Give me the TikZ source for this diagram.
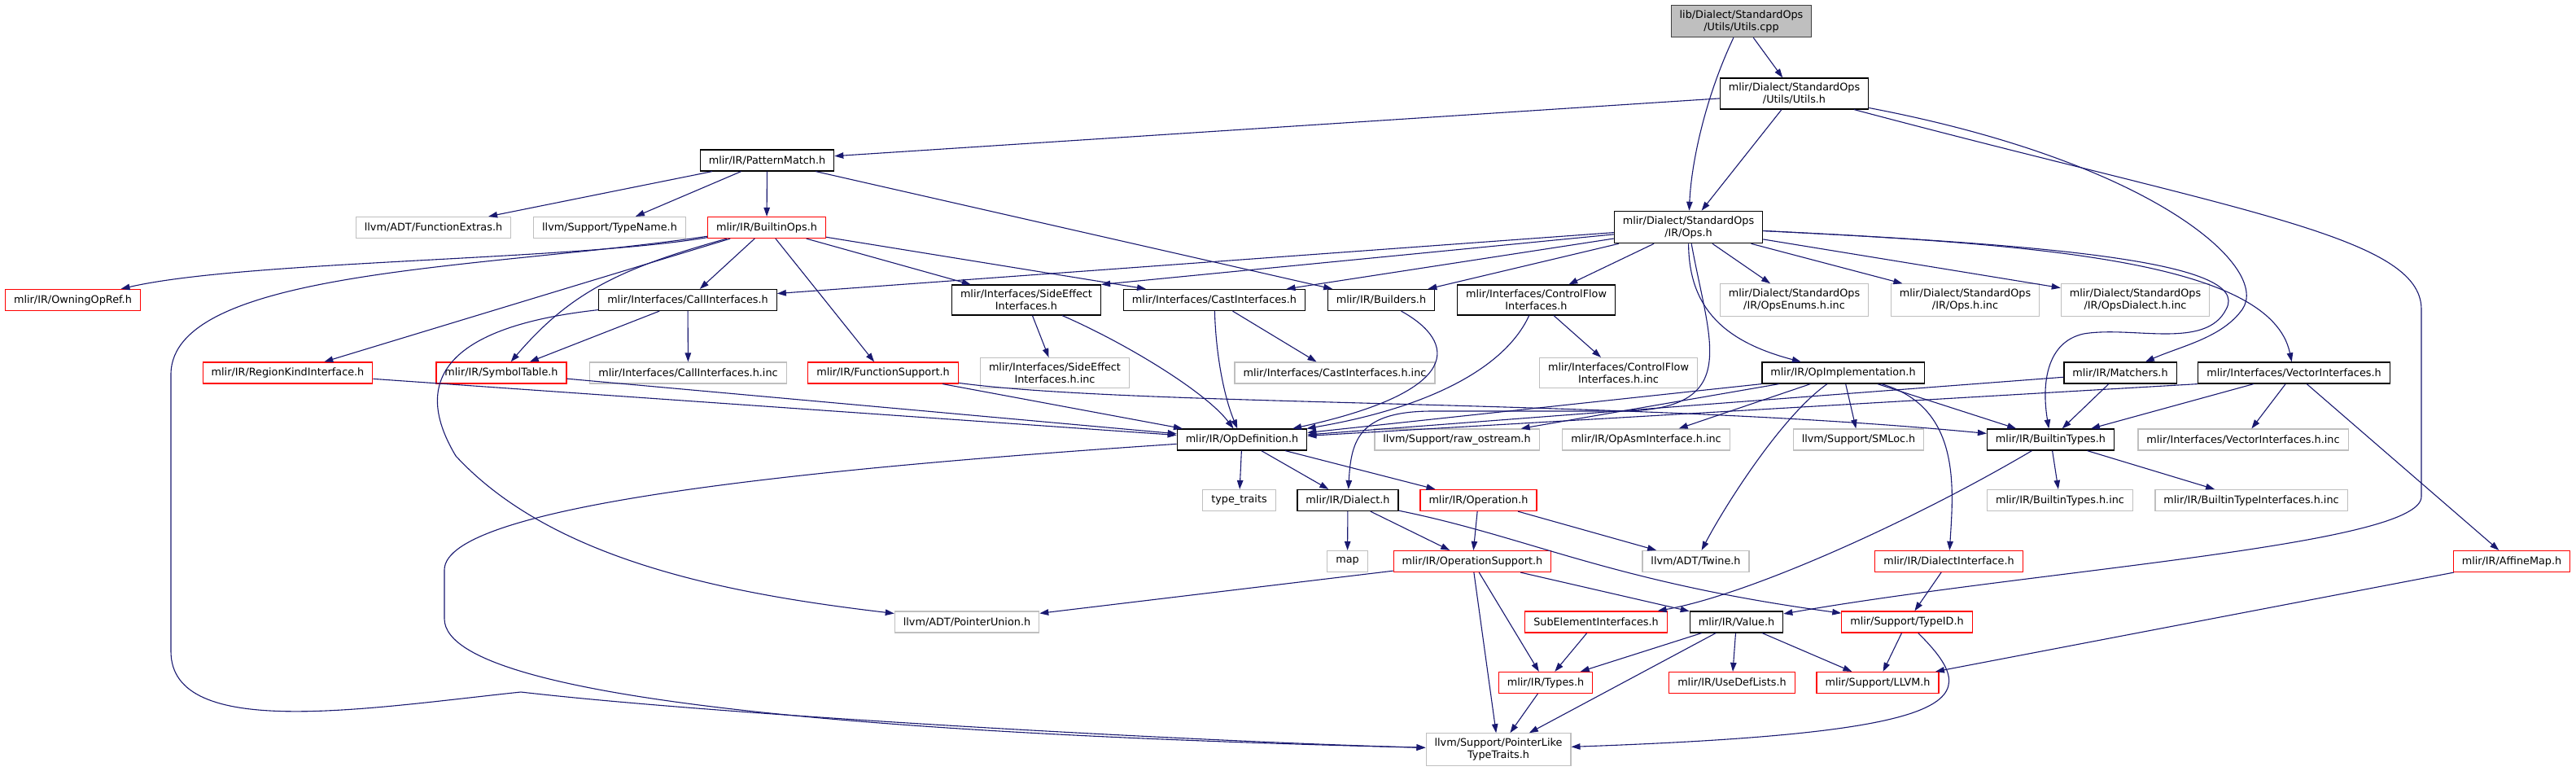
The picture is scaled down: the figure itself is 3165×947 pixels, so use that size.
\documentclass[tikz,border=0pt]{standalone}
\usepackage{fontspec}
\setmainfont{DejaVu Sans}
\usetikzlibrary{arrows.meta}
\definecolor{depblue}{HTML}{191970}
\definecolor{cutred}{HTML}{FF0000}
\definecolor{extgrey}{HTML}{BFBFBF}

\begin{document}
\begin{tikzpicture}[x=1pt, y=-1pt, >={Triangle[length=11pt,width=7.5pt]},
      box/.style={draw, line width=1.2pt, align=center, inner xsep=10.5pt,
                  inner ysep=6pt, minimum height=26pt,
                  font=\fontsize{12.8}{15}\selectfont},
      docbox/.style={box, draw=black},
      cutbox/.style={box, draw=cutred},
      extbox/.style={box, draw=extgrey},
      rootbox/.style={box, draw=black!75, fill=extgrey},
      dep/.style={->, draw=depblue, line width=1.1pt}]
    \useasboundingbox (0,0) rectangle (3165,947);
    \node[rootbox] (cpp) at (2139.5,26) {lib/Dialect/StandardOps\\/Utils/Utils.cpp};
    \node[docbox] (utilsh) at (2204.5,115) {mlir/Dialect/StandardOps\\/Utils/Utils.h};
    \node[docbox] (pm) at (942.5,197) {mlir/IR/PatternMatch.h};
    \node[docbox] (opsh) at (2074.5,279) {mlir/Dialect/StandardOps\\/IR/Ops.h};
    \node[extbox] (fext) at (532.5,279.5) {llvm/ADT/FunctionExtras.h};
    \node[extbox] (tname) at (749,279.5) {llvm/Support/TypeName.h};
    \node[cutbox] (bops) at (942,279.5) {mlir/IR/BuiltinOps.h};
    \node[cutbox] (owning) at (89.5,368.5) {mlir/IR/OwningOpRef.h};
    \node[docbox] (callif) at (845,368.5) {mlir/Interfaces/CallInterfaces.h};
    \node[docbox] (sideeff) at (1261,368.5) {mlir/Interfaces/SideEffect\\Interfaces.h};
    \node[docbox] (castif) at (1492,368.5) {mlir/Interfaces/CastInterfaces.h};
    \node[docbox] (builders) at (1697,368.5) {mlir/IR/Builders.h};
    \node[docbox] (cflow) at (1887.5,368.5) {mlir/Interfaces/ControlFlow\\Interfaces.h};
    \node[extbox] (enumsinc) at (2204.5,368.5) {mlir/Dialect/StandardOps\\/IR/OpsEnums.h.inc};
    \node[extbox] (opsinc) at (2414.5,368.5) {mlir/Dialect/StandardOps\\/IR/Ops.h.inc};
    \node[extbox] (dialinc) at (2623.5,368.5) {mlir/Dialect/StandardOps\\/IR/OpsDialect.h.inc};
    \node[cutbox] (region) at (353.5,458) {mlir/IR/RegionKindInterface.h};
    \node[cutbox] (symtab) at (616,458) {mlir/IR/SymbolTable.h};
    \node[extbox] (callinc) at (845.5,458) {mlir/Interfaces/CallInterfaces.h.inc};
    \node[cutbox] (funcsup) at (1085,458) {mlir/IR/FunctionSupport.h};
    \node[extbox] (sideinc) at (1296,458) {mlir/Interfaces/SideEffect\\Interfaces.h.inc};
    \node[extbox] (castinc) at (1640,458) {mlir/Interfaces/CastInterfaces.h.inc};
    \node[extbox] (cflowinc) at (1988.5,458) {mlir/Interfaces/ControlFlow\\Interfaces.h.inc};
    \node[docbox] (opimpl) at (2264.5,458) {mlir/IR/OpImplementation.h};
    \node[docbox] (matchers) at (2605,458) {mlir/IR/Matchers.h};
    \node[docbox] (vecif) at (2818.5,458) {mlir/Interfaces/VectorInterfaces.h};
    \node[docbox] (opdef) at (1526,540) {mlir/IR/OpDefinition.h};
    \node[extbox] (rawos) at (1790,540) {llvm/Support/raw\_ostream.h};
    \node[extbox] (asminc) at (2022.5,540) {mlir/IR/OpAsmInterface.h.inc};
    \node[extbox] (smloc) at (2283.5,540) {llvm/Support/SMLoc.h};
    \node[docbox] (btypes) at (2519.5,540) {mlir/IR/BuiltinTypes.h};
    \node[extbox] (vecinc) at (2756,540) {mlir/Interfaces/VectorInterfaces.h.inc};
    \node[extbox] (ttraits) at (1522.5,614.5) {type\_traits};
    \node[docbox] (dialect) at (1656,614.5) {mlir/IR/Dialect.h};
    \node[cutbox] (operation) at (1816.5,614.5) {mlir/IR/Operation.h};
    \node[extbox] (btinc) at (2531,614.5) {mlir/IR/BuiltinTypes.h.inc};
    \node[extbox] (btiinc) at (2766,614.5) {mlir/IR/BuiltinTypeInterfaces.h.inc};
    \node[extbox] (map) at (1655.5,689.5) {map};
    \node[cutbox] (opsupp) at (1809,689.5) {mlir/IR/OperationSupport.h};
    \node[extbox] (twine) at (2083.5,689.5) {llvm/ADT/Twine.h};
    \node[cutbox] (dialif) at (2394.5,689.5) {mlir/IR/DialectInterface.h};
    \node[cutbox] (affine) at (3086,689.5) {mlir/IR/AffineMap.h};
    \node[extbox] (punion) at (1188,764) {llvm/ADT/PointerUnion.h};
    \node[cutbox] (subel) at (1961,764) {SubElementInterfaces.h};
    \node[docbox] (value) at (2133.5,764) {mlir/IR/Value.h};
    \node[cutbox] (typeid) at (2343,764) {mlir/Support/TypeID.h};
    \node[cutbox] (types) at (1899,838.5) {mlir/IR/Types.h};
    \node[cutbox] (usedef) at (2128,838.5) {mlir/IR/UseDefLists.h};
    \node[cutbox] (llvmh) at (2307,838.5) {mlir/Support/LLVM.h};
    \node[extbox] (plike) at (1841,920.5) {llvm/Support/PointerLike\\TypeTraits.h};
    \draw[dep] (cpp) -- (utilsh);
    \draw[dep] (cpp) .. controls (2095,120) and (2078,200) .. (opsh);
    \draw[dep] (utilsh) -- (pm);
    \draw[dep] (utilsh) -- (opsh);
    \draw[dep] (utilsh) .. controls (2650,200) and (2790,330) .. (2755,380)
                        .. controls (2730,415) and (2680,425) .. (matchers);
    \draw[dep] (utilsh) .. controls (2750,260) and (2975,290) .. (2975,380) -- (2975,610)
                        .. controls (2975,670) and (2500,700) .. (value);
    \draw[dep] (pm) -- (fext); \draw[dep] (pm) -- (tname);
    \draw[dep] (pm) -- (bops); \draw[dep] (pm) -- (builders);
    \draw[dep] (bops) .. controls (700,320) and (300,320) .. (owning);
    \draw[dep] (bops) .. controls (600,330) and (210,330) .. (210,460) -- (210,800)
                      .. controls (210,910) and (450,870) .. (640,850)
                      .. controls (900,880) and (1500,912) .. (plike);
    \draw[dep] (bops) -- (callif); \draw[dep] (bops) -- (region);
    \draw[dep] (bops) .. controls (760,330) and (700,360) .. (symtab);
    \draw[dep] (bops) -- (funcsup); \draw[dep] (bops) -- (sideeff);
    \draw[dep] (bops) -- (castif);
    \draw[dep] (callif) -- (symtab); \draw[dep] (callif) -- (callinc);
    \draw[dep] (callif) .. controls (560,400) and (500,460) .. (560,560)
                        .. controls (680,690) and (900,730) .. (punion);
    \draw[dep] (region) -- (opdef); \draw[dep] (symtab) -- (opdef);
    \draw[dep] (funcsup) -- (opdef);
    \draw[dep] (funcsup) .. controls (1400,500) and (2000,490) .. (btypes);
    \draw[dep] (sideeff) -- (sideinc);
    \draw[dep] (sideeff) .. controls (1380,420) and (1480,480) .. (opdef);
    \draw[dep] (castif) -- (castinc);
    \draw[dep] (castif) .. controls (1494,440) and (1505,490) .. (opdef);
    \draw[dep] (builders) .. controls (1790,420) and (1800,480) .. (opdef);
    \draw[dep] (cflow) -- (cflowinc);
    \draw[dep] (cflow) .. controls (1850,450) and (1760,500) .. (opdef);
    \draw[dep] (opsh) -- (callif); \draw[dep] (opsh) -- (sideeff.north east);
    \draw[dep] (opsh) -- (castif); \draw[dep] (opsh) -- (builders);
    \draw[dep] (opsh) -- (cflow); \draw[dep] (opsh) -- (enumsinc);
    \draw[dep] (opsh) -- (opsinc); \draw[dep] (opsh) -- (dialinc);
    \draw[dep] (opsh) .. controls (2075,380) and (2120,420) .. (opimpl);
    \draw[dep] (opsh) .. controls (2500,300) and (2790,320) .. (vecif);
    \draw[dep] (opsh) .. controls (2500,300) and (2770,320) .. (2735,380)
                      .. controls (2710,430) and (2620,400) .. (2560,410)
                      .. controls (2515,420) and (2508,470) .. (btypes);
    \draw[dep] (opsh) .. controls (2100,420) and (2140,500) .. (2000,505) -- (1760,505)
                      .. controls (1670,505) and (1660,540) .. (dialect);
    \draw[dep] (opimpl.south west) -- (opdef); \draw[dep] (opimpl) -- (rawos);
    \draw[dep] (opimpl) -- (asminc); \draw[dep] (opimpl) -- (smloc);
    \draw[dep] (opimpl) -- (btypes);
    \draw[dep] (opimpl) .. controls (2190,510) and (2120,620) .. (twine);
    \draw[dep] (opimpl) .. controls (2410,500) and (2400,600) .. (dialif);
    \draw[dep] (matchers) -- (btypes); \draw[dep] (matchers) -- (opdef);
    \draw[dep] (vecif.south west) -- (opdef); \draw[dep] (vecif) -- (btypes);
    \draw[dep] (vecif) -- (vecinc); \draw[dep] (vecif) -- (affine);
    \draw[dep] (opdef) -- (ttraits); \draw[dep] (opdef) -- (dialect);
    \draw[dep] (opdef) -- (operation);
    \draw[dep] (opdef) .. controls (1000,575) and (546,620) .. (546,700) -- (546,760)
                       .. controls (546,870) and (1200,905) .. (plike);
    \draw[dep] (dialect) -- (map); \draw[dep] (dialect) -- (opsupp);
    \draw[dep] (dialect) .. controls (1880,660) and (1980,715) .. (typeid);
    \draw[dep] (operation) -- (opsupp); \draw[dep] (operation) -- (twine);
    \draw[dep] (opsupp) -- (punion); \draw[dep] (opsupp) -- (types);
    \draw[dep] (opsupp) -- (plike); \draw[dep] (opsupp) -- (value);
    \draw[dep] (btypes) -- (btinc); \draw[dep] (btypes) -- (btiinc);
    \draw[dep] (btypes) .. controls (2350,640) and (2150,730) .. (subel);
    \draw[dep] (subel) -- (types);
    \draw[dep] (value) -- (types); \draw[dep] (value) -- (usedef);
    \draw[dep] (value) -- (llvmh); \draw[dep] (value) -- (plike);
    \draw[dep] (typeid) -- (llvmh);
    \draw[dep] (typeid) .. controls (2440,860) and (2420,900) .. (plike);
    \draw[dep] (dialif) -- (typeid);
    \draw[dep] (affine) -- (llvmh);
    \draw[dep] (types) -- (plike);
  \end{tikzpicture}
\end{document}
